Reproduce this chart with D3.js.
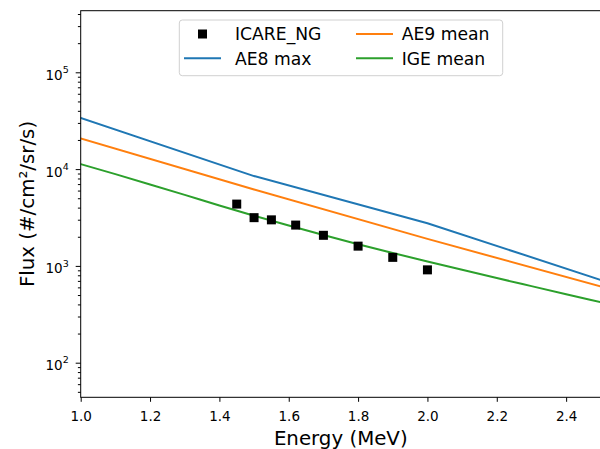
<!DOCTYPE html>
<html><head><meta charset="utf-8">
<script src="https://cdn.jsdelivr.net/npm/d3@7"></script>
<style>body{margin:0;background:#fff}svg{display:block}text{font-family:"DejaVu Sans",sans-serif}</style>
</head><body><svg id="c" width="600" height="449"></svg>
<script>
// Data
const icareE = [1.45, 1.5, 1.55, 1.62, 1.7, 1.8, 1.9, 2.0];
const icareFlux = [4350, 3150, 2990, 2640, 2070, 1600, 1225, 910];
const ae8E = [1.0, 1.5, 2.0, 2.5];
const ae8Flux = [33800, 8470, 2760, 716];
const ae9E = [1.0, 1.5, 2.0, 2.5];
const ae9Flux = [20770, 6165, 1900, 614];
const igeE = [1.0, 1.1, 1.2, 1.3, 1.4, 1.5, 1.6, 1.7, 1.8, 1.9, 2.0, 2.1, 2.2, 2.3, 2.4, 2.5];
const igeFlux = [11260, 8867, 6945, 5416, 4213, 3301, 2610, 2083, 1677, 1360, 1111, 911, 749, 618, 510, 421];
const xTicks = [1.0, 1.2, 1.4, 1.6, 1.8, 2.0, 2.2, 2.4];
const yMajor = [100, 1000, 10000, 100000];
const yDomain = [43.9, 432900];
const xDomain = [1.0, 2.5];
const legendItems = ["ICARE_NG", "AE8 max", "AE9 mean", "IGE mean"];
const colors = {ae8: "#1f77b4", ae9: "#ff7f0e", ige: "#2ca02c"};

const L = 80.7, R = 600.8, T = 10.7, B = 397.3;
const svg = d3.select("#c");
const x = d3.scaleLinear().domain(xDomain).range([L, R]);
const y = d3.scaleLog().domain(yDomain).range([B, T]);

svg.append("defs").append("clipPath").attr("id", "clip")
  .append("rect").attr("x", L).attr("y", T).attr("width", R - L).attr("height", B - T);

const plot = svg.append("g").attr("clip-path", "url(#clip)");
function drawLine(es, fs, col, curve) {
  const line = d3.line().x(d => x(d[0])).y(d => y(d[1])).curve(curve || d3.curveLinear);
  plot.append("path").datum(es.map((e, i) => [e, fs[i]]))
    .attr("d", line).attr("fill", "none").attr("stroke", col)
    .attr("stroke-width", 2).attr("stroke-linejoin", "round").attr("stroke-linecap", "square");
}
drawLine(ae8E, ae8Flux, colors.ae8);
drawLine(ae9E, ae9Flux, colors.ae9);
drawLine(igeE, igeFlux, colors.ige, d3.curveMonotoneX);
const ms = 9;
plot.selectAll("rect.pt").data(icareE.map((e, i) => [e, icareFlux[i]])).enter()
  .append("rect").attr("class", "pt")
  .attr("x", d => x(d[0]) - ms / 2).attr("y", d => y(d[1]) - ms / 2)
  .attr("width", ms).attr("height", ms).attr("fill", "#000");

// Axes
const xAxis = d3.axisBottom(x).tickValues(xTicks).tickFormat(d3.format(".1f")).tickSize(4.5).tickPadding(3);
const gx = svg.append("g").attr("transform", `translate(0,${B})`).call(xAxis);
gx.select(".domain").remove();
gx.selectAll("text").attr("font-size", 13.5).attr("font-family", "DejaVu Sans").attr("fill", "#000").attr("dy", null).attr("y", 23.6);

const minor = [];
for (let p = 1; p <= 5; p++) for (let m = 2; m <= 9; m++) {
  const v = m * Math.pow(10, p);
  if (v >= yDomain[0] && v <= yDomain[1]) minor.push(v);
}
const gyMinor = svg.append("g").attr("transform", `translate(${L},0)`)
  .call(d3.axisLeft(y).tickValues(minor).tickFormat("").tickSize(2.8));
gyMinor.select(".domain").remove();
const gy = svg.append("g").attr("transform", `translate(${L},0)`)
  .call(d3.axisLeft(y).tickValues(yMajor).tickFormat("").tickSize(5));
gy.select(".domain").remove();
gy.selectAll(".tick").each(function(d) {
  const t = d3.select(this).append("text").attr("x", -12).attr("y", 7)
    .attr("text-anchor", "end").attr("font-size", 13.5).attr("fill", "#000");
  t.append("tspan").text("10");
  t.append("tspan").attr("font-size", 9.5).attr("dy", -6.8).text(String(Math.round(Math.log10(d))));
});
svg.selectAll(".tick line").attr("stroke", "#000").attr("stroke-width", 1);

// Frame
svg.append("rect").attr("x", L).attr("y", T).attr("width", R - L).attr("height", B - T)
  .attr("fill", "none").attr("stroke", "#000").attr("stroke-width", 1);

// Axis labels
svg.append("text").attr("x", (L + R) / 2).attr("y", 445).attr("text-anchor", "middle")
  .attr("font-size", 19.8).attr("fill", "#000").text("Energy (MeV)");
svg.append("text").attr("transform", `translate(33.5,${(T + B) / 2}) rotate(-90)`)
  .attr("text-anchor", "middle").attr("font-size", 19.8).attr("fill", "#000").text("Flux (#/cm²/sr/s)");

// Legend
const lg = svg.append("g");
lg.append("rect").attr("x", 179.3).attr("y", 20).attr("width", 323.4).attr("height", 55.7)
  .attr("rx", 3).attr("fill", "#fff").attr("fill-opacity", 0.8).attr("stroke", "#d0d0d0").attr("stroke-width", 1);
const entries = [
  {label: legendItems[0], type: "marker", hx: 184, tx: 235, cy: 34},
  {label: legendItems[1], type: "line", col: colors.ae8, hx: 184, tx: 235, cy: 58.3},
  {label: legendItems[2], type: "line", col: colors.ae9, hx: 356, tx: 401.7, cy: 34},
  {label: legendItems[3], type: "line", col: colors.ige, hx: 356, tx: 401.7, cy: 58.3}
];
entries.forEach(e => {
  if (e.type === "marker") {
    lg.append("rect").attr("x", e.hx + 18.5 - ms / 2).attr("y", e.cy - ms / 2).attr("width", ms).attr("height", ms).attr("fill", "#000");
  } else {
    lg.append("line").attr("x1", e.hx).attr("x2", e.hx + 37).attr("y1", e.cy).attr("y2", e.cy)
      .attr("stroke", e.col).attr("stroke-width", 2);
  }
  lg.append("text").attr("x", e.tx).attr("y", e.cy + 6.2).attr("font-size", 17.2).attr("fill", "#000").text(e.label);
});
</script></body></html>
